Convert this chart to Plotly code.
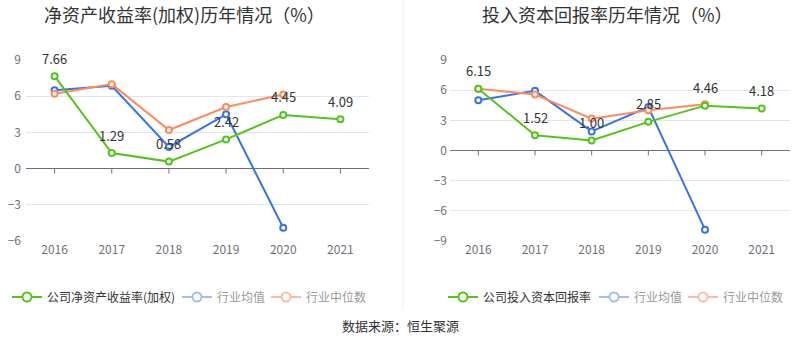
import plotly.graph_objects as go

years = [2016, 2017, 2018, 2019, 2020, 2021]

roe_company = [7.66, 1.29, 0.58, 2.42, 4.45, 4.09]
roe_ind_avg = [6.5, 6.87, 1.8, 4.5, -4.9, None]
roe_ind_med = [6.2, 7.0, 3.2, 5.1, 6.15, None]

roic_company = [6.15, 1.52, 1.00, 2.85, 4.46, 4.18]
roic_ind_avg = [5.0, 5.93, 1.9, 4.33, -7.87, None]
roic_ind_med = [6.13, 5.57, 3.17, 4.0, 4.6, None]

left_ticks = [-6, -3, 0, 3, 6, 9]
right_ticks = [-9, -6, -3, 0, 3, 6, 9]

GREEN = "#52C41A"
BLUE = "#3873E6"
ORANGE = "#FF8A5B"
GREEN_L = "#52C41A"
BLUE_L = "#A3BDF2"
ORANGE_L = "#FDBCA3"
FONT = "Noto Sans CJK SC, Noto Sans, sans-serif"

W, H = 800, 358
fig = go.Figure()

def px_x(p):
    return p / W

def px_y(p):
    return 1 - p / H

annotations = []

def add_series(xa, ya, company, avg, med):
    fig.add_trace(go.Scatter(
        x=years, y=avg, mode="lines+markers", xaxis=xa, yaxis=ya,
        line=dict(color=BLUE, width=2),
        marker=dict(symbol="circle", size=6, color="white", line=dict(color=BLUE, width=2)),
        showlegend=False, hoverinfo="skip"))
    fig.add_trace(go.Scatter(
        x=years, y=med, mode="lines+markers", xaxis=xa, yaxis=ya,
        line=dict(color=ORANGE, width=2),
        marker=dict(symbol="circle", size=6, color="white", line=dict(color=ORANGE, width=2)),
        showlegend=False, hoverinfo="skip"))
    fig.add_trace(go.Scatter(
        x=years, y=company, mode="lines+markers", xaxis=xa, yaxis=ya,
        line=dict(color=GREEN, width=2),
        marker=dict(symbol="circle", size=6, color="white", line=dict(color=GREEN, width=2)),
        showlegend=False, hoverinfo="skip"))
    for yr, v in zip(years, company):
        annotations.append(dict(
            x=yr, y=v, xref=xa, yref=ya, text=f"{v:.2f}", showarrow=False,
            yshift=18, xanchor="center", yanchor="middle",
            font=dict(family=FONT, size=13, color="#333")))

add_series("x", "y", roe_company, roe_ind_avg, roe_ind_med)
add_series("x2", "y2", roic_company, roic_ind_avg, roic_ind_med)

# legends
legend_items = [
    ("legend", "公司净资产收益率(加权)", GREEN_L, "#333", 7),
    ("legend2", "行业均值", BLUE_L, "#999", 177),
    ("legend3", "行业中位数", ORANGE_L, "#999", 266),
    ("legend4", "公司投入资本回报率", GREEN_L, "#333", 443),
    ("legend5", "行业均值", BLUE_L, "#999", 594),
    ("legend6", "行业中位数", ORANGE_L, "#999", 683),
]
layout_legends = {}
for lg, name, col, tcol, xp in legend_items:
    fig.add_trace(go.Scatter(
        x=[None], y=[None], mode="lines+markers", name=name, legend=lg,
        line=dict(color=col, width=2),
        marker=dict(symbol="circle", size=9, color="white", line=dict(color=col, width=2)),
        hoverinfo="skip"))
    layout_legends[lg] = dict(
        x=px_x(xp), xanchor="left", y=px_y(297), yanchor="middle",
        orientation="h", bgcolor="rgba(0,0,0,0)", borderwidth=0,
        font=dict(family=FONT, size=12, color=tcol), itemwidth=30,
        itemclick=False, itemdoubleclick=False)

axis_font = dict(family=FONT, size=12, color="#6e7079")
xcommon = dict(type="linear", range=[years[0] - 0.5, years[-1] + 0.5], tickvals=years,
               showgrid=False, showline=False, ticks="",
               tickfont=axis_font, zeroline=False, fixedrange=True)
ycommon = dict(showgrid=True, gridcolor="#E0E6F1", gridwidth=1, zeroline=True,
               zerolinecolor="#6E7079", zerolinewidth=1, showline=False, ticks="",
               tickfont=axis_font, fixedrange=True)

ydom = [px_y(241), px_y(60)]

shapes = [dict(type="line", xref="paper", yref="paper", x0=px_x(403), x1=px_x(403),
               y0=px_y(310), y1=1, line=dict(color="#EEEEEE", width=1))]
for xa in ["x", "x2"]:
    ya = "y" if xa == "x" else "y2"
    for yr in years:
        shapes.append(dict(type="line", xref=xa, yref=ya, x0=yr, x1=yr,
                           ysizemode="pixel", yanchor=0, y0=0, y1=-5,
                           line=dict(color="#6E7079", width=1)))

annotations += [
    dict(text="净资产收益率(加权)历年情况（%）", xref="paper", yref="paper",
         x=px_x(184), y=px_y(14), xanchor="center", yanchor="middle", showarrow=False,
         font=dict(family=FONT, size=18, color="#333")),
    dict(text="投入资本回报率历年情况（%）", xref="paper", yref="paper",
         x=px_x(607), y=px_y(14), xanchor="center", yanchor="middle", showarrow=False,
         font=dict(family=FONT, size=18, color="#333")),
    dict(text="数据来源：恒生聚源", xref="paper", yref="paper",
         x=px_x(400), y=px_y(325), xanchor="center", yanchor="middle", showarrow=False,
         font=dict(family=FONT, size=13, color="#333")),
]

fig.update_layout(
    width=W, height=H, margin=dict(l=0, r=0, t=0, b=0, autoexpand=False),
    paper_bgcolor="white", plot_bgcolor="white",
    font=dict(family=FONT),
    hovermode=False,
    xaxis=dict(domain=[px_x(26), px_x(369)], anchor="y", **xcommon),
    yaxis=dict(domain=ydom, range=[-6, 9], tickvals=left_ticks, anchor="x",
               ticklabelstandoff=4, **ycommon),
    xaxis2=dict(domain=[px_x(450), px_x(790)], anchor="y2", **xcommon),
    yaxis2=dict(domain=ydom, range=[-9, 9], tickvals=right_ticks, anchor="x2",
                ticklabelstandoff=2, **ycommon),
    shapes=shapes,
    annotations=annotations,
    **layout_legends,
)

fig.write_html("out.html", config={"displayModeBar": False, "staticPlot": True},
               post_script="document.body.style.margin='0';")
